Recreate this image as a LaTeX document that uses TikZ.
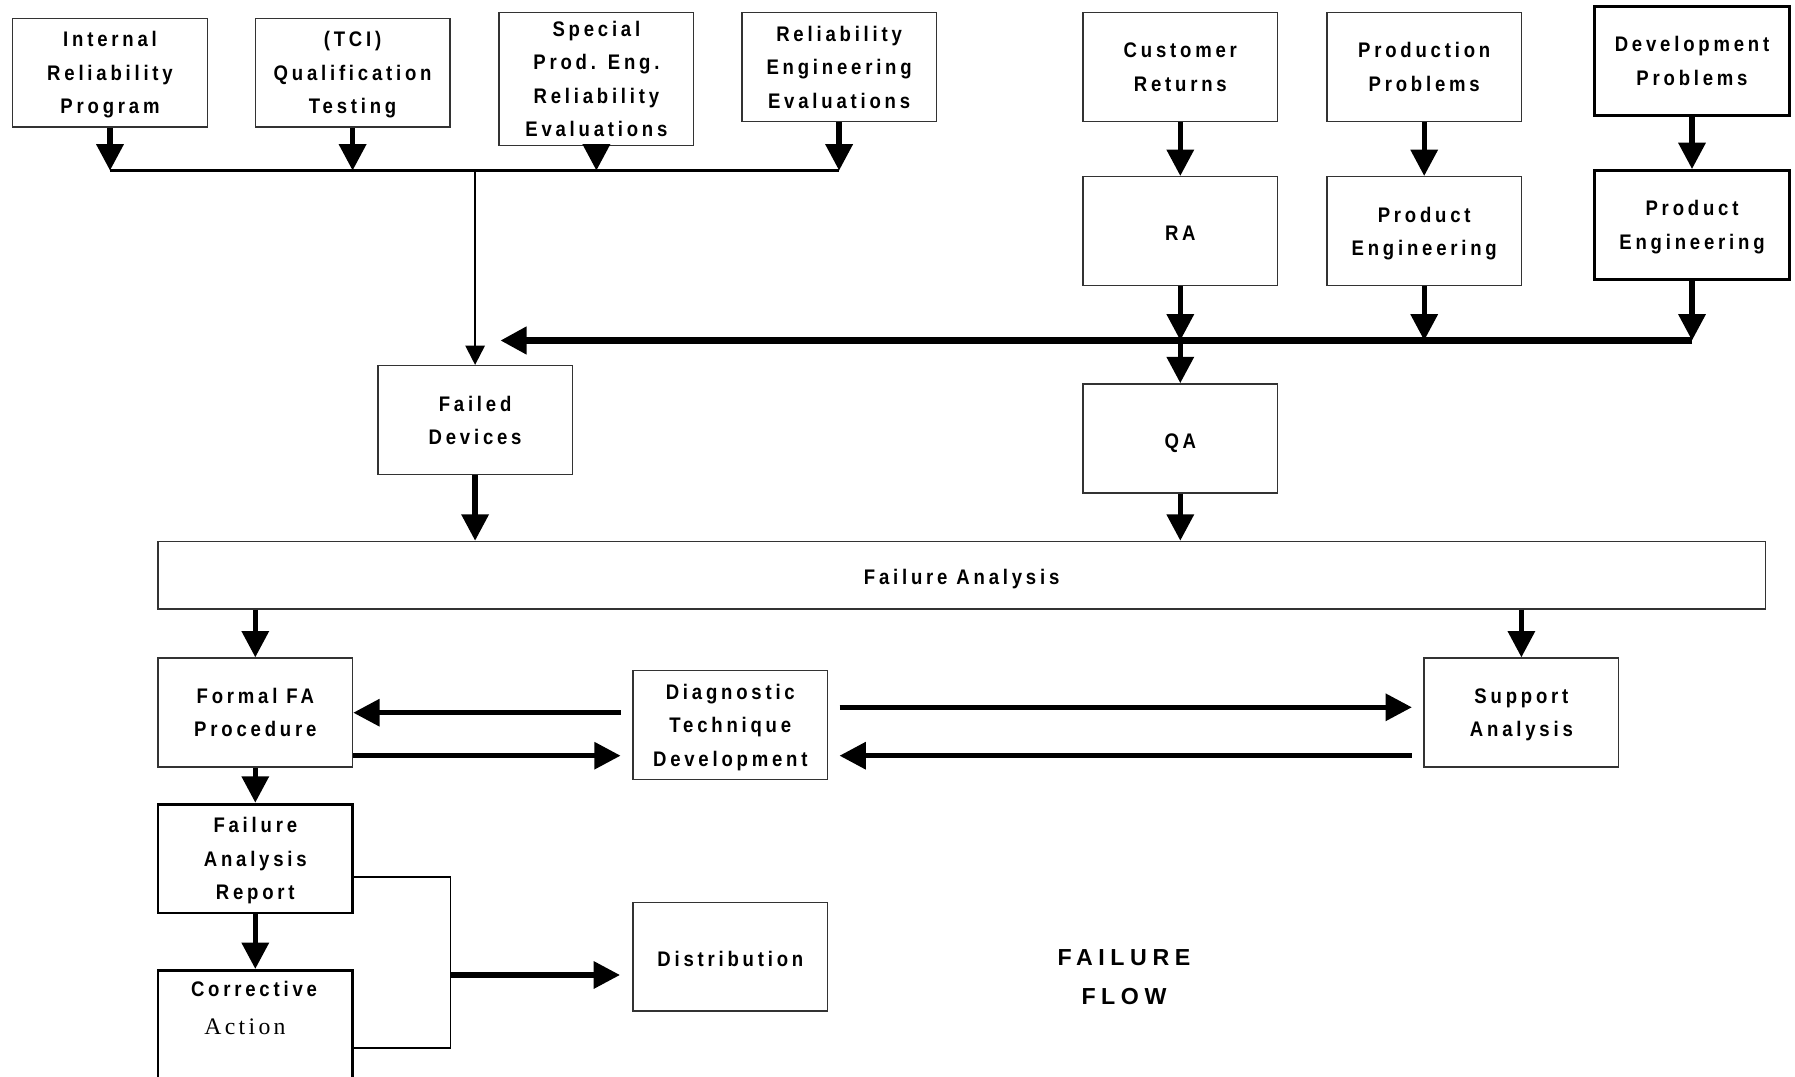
\documentclass[tikz,border=0pt]{standalone}
\usepackage{fontspec}
\setmainfont{Liberation Sans}
\newfontfamily\boxfont[FakeStretch=0.88, LetterSpace=18]{Liberation Sans}
\newfontfamily\titlefont[LetterSpace=24]{Liberation Sans}
\newfontfamily\actfont[LetterSpace=14]{Liberation Serif}
\usetikzlibrary{arrows.meta}

\begin{document}
\begin{tikzpicture} [x = 0.02cm, y = -0.02cm,
  box/.style = {draw=black!80, line width=0.8pt, minimum width=3.89cm, minimum height=2.18cm, inner sep=0pt, align=center, font={\boxfont\bfseries\fontsize{12}{19}\selectfont}, text depth=-2.5pt, execute at begin node={\rule{0pt}{12pt}}},
  oneline/.style = {text depth=1pt},
  thickbox/.style = {box, draw=black, line width=1.6pt},
  arr/.style = {line width=3pt, -{Triangle[width=15pt, length=15pt]}},
  thinarr/.style = {line width=1.2pt, -{Triangle[width=11pt, length=11pt]}}]
\path[use as bounding box, fill=white] (0, 0) rectangle (1795, 1077);
\node[box] (irp) at (110, 72.7){Internal\\Reliability\\Program};
\node[box] (tci) at (352.6, 72.7){(TCI)\\Qualification\\Testing};
\node[box, minimum height=2.66cm] (spe) at (596.4, 79){Special\\Prod. Eng.\\Reliability\\Evaluations};
\node[box] (ree) at (839.1, 67){Reliability\\Engineering\\Evaluations};
\node[box] (cret) at (1180.3, 67){Customer\\Returns};
\node[box] (pprob) at (1424.2, 67){Production\\Problems};
\node[thickbox] (dprob) at (1692, 61){Development\\Problems};
\node[box, oneline] (ra) at (1180.3, 231.2){RA};
\node[box] (peng) at (1424.2, 231.2){Product\\Engineering};
\node[thickbox] (deng) at (1692, 225){Product\\Engineering};
\node[box] (fdev) at (475.1, 420.1){Failed\\Devices};
\node[box, oneline] (qa) at (1180.3, 438.4){QA};
\node[box, oneline, minimum width=32.15cm, minimum height=1.35cm] (fa) at (961.6, 575.2){Failure Analysis};
\node[box] (ffa) at (255.3, 712.6){Formal FA\\Procedure};
\node[box] (dtd) at (730.3, 725.2){Diagnostic\\Technique\\Development};
\node[box] (sup) at (1521.4, 712.6){Support\\Analysis};
\node[thickbox] (far) at (255.3, 858.6){Failure\\Analysis\\Report};
\node[thickbox, anchor=north, minimum height=2.6cm] (cact) at (255.3, 969){};
\node[font={\boxfont\bfseries\fontsize{12}{19}\selectfont}] (ctxt) at (254, 989){Corrective};
\node[font={\actfont\fontsize{13.5}{15}\selectfont}] (atxt) at (245, 1027){Action};
\node[box, oneline] (dist) at (730.3, 956.7){Distribution};
\node[align=center, font={\titlefont\bfseries\fontsize{13.2}{22}\selectfont}] (flow) at (1124, 977){FAILURE\\FLOW};
\coordinate (bus1) at (475.1, 170.6);
\coordinate (bus2) at (1692, 340.5);
\coordinate (bus2end) at (500.3, 340.5);
\coordinate (dl1) at (620.6, 712.7);
\coordinate (dl2) at (620.6, 755.7);
\coordinate (dr1) at (839.5, 707.3);
\coordinate (sl1) at (1411.9, 707.3);
\coordinate (dr2) at (839.5, 755.7);
\coordinate (brtop) at (450.7, 877);
\coordinate (brbot) at (450.7, 1048);
\coordinate (brk) at (450.7, 975);
\coordinate (distin) at (620, 975);
\draw[arr] (irp.south) -- (irp.south |- bus1);
\draw[arr] (tci.south) -- (tci.south |- bus1);
\draw[arr] (spe.south) -- (spe.south |- bus1);
\draw[arr] (ree.south) -- (ree.south |- bus1);
\draw[line width=2pt] (irp.south |- bus1) -- (ree.south |- bus1);
\draw[thinarr] (bus1) -- (fdev.north);
\draw[arr] (cret) -- (ra);
\draw[arr] (pprob) -- (peng);
\draw[arr] (dprob) -- (deng);
\draw[arr] (ra.south) -- (ra.south |- bus2);
\draw[arr] (peng.south) -- (peng.south |- bus2);
\draw[arr] (deng.south) -- (deng.south |- bus2);
\draw[arr, line width=3.8pt] (bus2) -- (bus2end);
\draw[arr] (ra.south |- bus2) -- (qa.north);
\draw[arr] (fdev.south) -- (fdev.south |- fa.north);
\draw[arr] (qa.south) -- (qa.south |- fa.north);
\draw[arr] (fa.south -| ffa.north) -- (ffa.north);
\draw[arr] (fa.south -| sup.north) -- (sup.north);
\draw[arr] (dl1) -- (dl1 -| ffa.east);
\draw[arr] (dl2 -| ffa.east) -- (dl2);
\draw[arr] (dr1) -- (sl1);
\draw[arr] (dr2 -| sl1) -- (dr2);
\draw[arr] (ffa) -- (far);
\draw[arr] (far) -- (cact);
\draw[line width=0.8pt] (brtop -| far.east) -- (brtop) -- (brbot) -- (brbot -| cact.east);
\draw[arr] (brk) -- (distin);
\end{tikzpicture}
\end{document}
